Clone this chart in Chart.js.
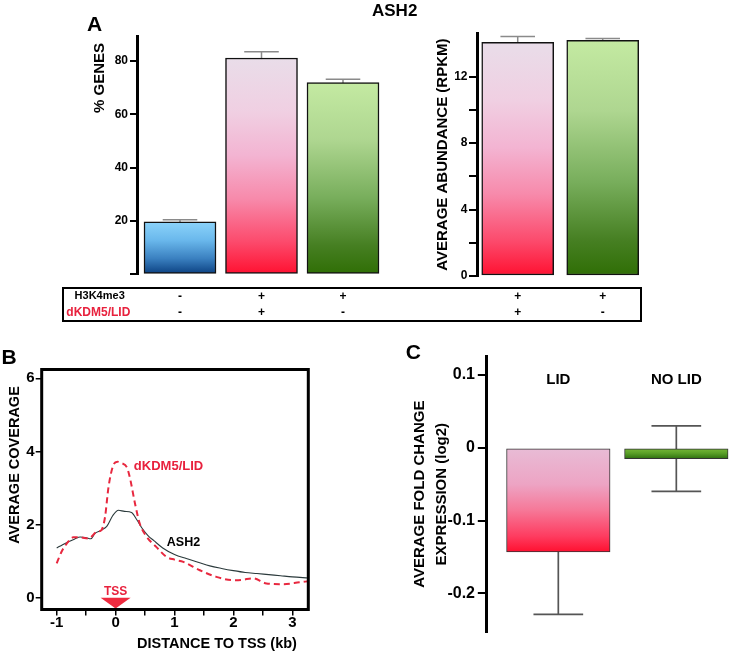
<!DOCTYPE html>
<html><head><meta charset="utf-8">
<script src="https://cdn.jsdelivr.net/npm/chart.js@4.4.1/dist/chart.umd.min.js"></script>
<style>
html,body{margin:0;padding:0;background:#fff;}
#wrap{position:relative;width:750px;height:652px;overflow:hidden;font-family:'Liberation Sans',Arial,Helvetica,sans-serif;font-weight:bold;color:#000;}
canvas{position:absolute;left:0;top:0;}
.t{position:absolute;white-space:nowrap;line-height:1;}
.c{transform:translate(-50%,-50%);}
.r{transform:translate(-50%,-50%) rotate(-90deg);}
#tbl{position:absolute;left:61.5px;top:286.5px;width:576px;height:31px;border:2px solid #000;}
</style></head><body>
<div id="wrap">
<canvas id="cA1" width="750" height="652"></canvas>
<canvas id="cA2" width="750" height="652"></canvas>
<canvas id="cB" width="750" height="652"></canvas>
<canvas id="cC" width="750" height="652"></canvas>
<div class="t c" style="left:94.5px;top:22.5px;font-size:21px">A</div>
<div class="t c" style="left:394.7px;top:9.5px;font-size:17px">ASH2</div>
<div class="t r" style="left:98px;top:78px;font-size:15px">% GENES</div>
<div id="tbl"></div>
<div class="t c" style="left:99.7px;top:295px;font-size:11px">H3K4me3</div>
<div class="t c" style="left:98.3px;top:312.3px;font-size:12px;color:#e8213d">dKDM5/LID</div>
<div class="t c" style="left:9.2px;top:355.5px;font-size:21px">B</div>
<div class="t r" style="left:14px;top:465px;font-size:14.5px">AVERAGE COVERAGE</div>
<div class="t c" style="left:217px;top:643px;font-size:14.5px">DISTANCE TO TSS (kb)</div>
<div class="t c" style="left:413.3px;top:350.8px;font-size:21px">C</div>
</div>
<script>
// ---------- DATA ----------
// Panel A (left): % genes
const genesCats = ['H3K4me3- dKDM5/LID-', 'H3K4me3+ dKDM5/LID+', 'H3K4me3+ dKDM5/LID-'];
const genesPct = [19.7, 81.1, 71.9];
const genesErr = [0.8, 2.4, 1.25];
const genesTicks = [0, 20, 40, 60, 80];
// Panel A (right): average abundance (RPKM)
const abundCats = ['H3K4me3+ dKDM5/LID+', 'H3K4me3+ dKDM5/LID-'];
const abundRpkm = [14.06, 14.18];
const abundErr = [0.35, 0.12];
const abundTicks = [0, 2, 4, 6, 8, 10, 12];
// Table under panel A
const tableRowH3 = ['-', '+', '+', '+', '+'];
const tableRowLid = ['-', '+', '-', '+', '-'];
// Panel B: coverage profiles around TSS
const seriesNames = ['dKDM5/LID', 'ASH2'];
const lidX = [-1.0,-0.92,-0.83,-0.72,-0.6,-0.46,-0.32,-0.24,-0.18,-0.12,-0.04,0.03,0.1,0.19,0.24,0.33,0.41,0.53,0.69,0.86,1.0,1.15,1.43,1.71,1.99,2.15,2.33,2.56,2.84,3.12,3.27];
const lidY = [0.94,1.25,1.48,1.65,1.65,1.62,1.80,1.85,2.2,3.03,3.62,3.72,3.68,3.57,3.3,2.57,2.03,1.66,1.39,1.12,1.04,0.98,0.75,0.57,0.48,0.49,0.53,0.39,0.37,0.42,0.45];
const ash2X = [-1.0,-0.9,-0.8,-0.7,-0.6,-0.5,-0.42,-0.35,-0.25,-0.15,-0.05,0.05,0.15,0.27,0.36,0.45,0.55,0.65,0.8,1.0,1.2,1.4,1.6,1.8,2.0,2.2,2.4,2.6,2.8,3.0,3.27];
const ash2Y = [1.36,1.45,1.53,1.60,1.66,1.64,1.61,1.76,1.84,1.95,2.24,2.39,2.36,2.33,2.13,1.90,1.70,1.56,1.36,1.18,1.07,0.97,0.87,0.80,0.74,0.69,0.66,0.63,0.60,0.57,0.54];
const covXTicks = [-1, -0.5, 0, 0.5, 1, 1.5, 2, 2.5, 3];
const covYTicks = [0, 2, 4, 6];
const tssPos = 0;
// Panel C: average fold change expression
const foldCats = ['LID', 'NO LID'];
const foldVals = [-0.143, -0.015];
const foldErr = [0.086, 0.045];
const foldTicks = [-0.2, -0.1, 0, 0.1];

// ---------- STYLE ----------
const FONT = "'Liberation Sans', Arial, Helvetica, sans-serif";
Chart.defaults.font.family = FONT;
Chart.defaults.color = '#000';
const BLUE = [[0,'#8cd3fa'],[0.35,'#6ab8ec'],[0.7,'#3a80c0'],[1,'#0a3f80']];
const PINK = [[0,'#e9dde9'],[0.25,'#f0cfe2'],[0.45,'#f3b4d2'],[0.65,'#f78aab'],[0.85,'#fc4a6c'],[1,'#ff1030']];
const GREEN = [[0,'#c4eaa2'],[0.3,'#aed690'],[0.6,'#78ae5c'],[0.85,'#467f22'],[1,'#2f6e05']];
const PINK_C = [[0,'#e8bcd6'],[0.35,'#eda4c4'],[0.6,'#f67898'],[0.85,'#fe3c60'],[1,'#ff1030']];
const GREEN_C = [[0,'#7cbc3c'],[0.5,'#5aa028'],[1,'#2f7010']];

function gradFill(ctx, stops) {
  const ch = ctx.chart;
  if (ctx.type !== 'data' || !ch.chartArea) return stops[0][1];
  const ys = ch.scales.y;
  const v = ctx.parsed ? ctx.parsed.y : ctx.raw.y;
  const p1 = ys.getPixelForValue(Math.max(v, 0)), p2 = ys.getPixelForValue(Math.min(v, 0));
  const g = ch.ctx.createLinearGradient(0, p1, 0, p2);
  stops.forEach(s => g.addColorStop(s[0], s[1]));
  return g;
}

const errorBars = {
  id: 'errorBars',
  beforeDatasetsDraw(chart, args, opts) {
    const ds = chart.data.datasets[0];
    if (!ds.errors) return;
    const meta = chart.getDatasetMeta(0), ys = chart.scales.y, c = chart.ctx;
    c.save();
    c.strokeStyle = opts.color; c.lineWidth = opts.width;
    meta.data.forEach((el, i) => {
      const v = ds.data[i].y, e = ds.errors[i];
      const x = el.x, half = el.width * 0.24;
      const yt = ys.getPixelForValue(v + e), yb = ys.getPixelForValue(v - e);
      c.beginPath();
      c.moveTo(x, yt); c.lineTo(x, yb);
      c.moveTo(x - half, yt); c.lineTo(x + half, yt);
      c.moveTo(x - half, yb); c.lineTo(x + half, yb);
      c.stroke();
    });
    c.restore();
  }
};

function yAxis(opts) {
  return Object.assign({
    border: { display: true, width: 3, color: '#000' },
    grid: { display: true, drawOnChartArea: false, drawTicks: true, tickLength: 7, color: '#000', lineWidth: 2 },
  }, opts);
}
const common = {
  responsive: false, animation: false, events: [],
};

// ---------- PANEL A left ----------
const chA1 = new Chart(document.getElementById('cA1'), {
  type: 'bar',
  data: { labels: genesCats, datasets: [{
    label: '% GENES',
    data: genesPct.map((v, i) => ({ x: i, y: v })),
    errors: genesErr,
    backgroundColor: c => gradFill(c, [BLUE, PINK, GREEN][c.dataIndex]),
    borderColor: '#111', borderWidth: 1.5, borderSkipped: false, barThickness: 72
  }]},
  options: Object.assign({}, common, {
    layout: { padding: { left: 97, top: 36, right: 370, bottom: 377.7 } },
    plugins: { legend: { display: false }, tooltip: { enabled: false }, errorBars: { color: '#8a8a8a', width: 1.5 } },
    scales: {
      x: { type: 'linear', display: false, min: -0.5276, max: 2.454, offset: false },
      y: yAxis({ min: 0, max: 89.36,
        afterFit: s => { s.width = 40; },
        afterBuildTicks: s => { s.ticks = genesTicks.map(v => ({ value: v })); },
        ticks: { font: { size: 12, weight: 'bold' }, color: '#000', padding: 2, callback: v => v === 0 ? '' : String(v) } })
    }
  }),
  plugins: [errorBars]
});

// ---------- PANEL A right ----------
const chA2 = new Chart(document.getElementById('cA2'), {
  type: 'bar',
  data: { labels: abundCats, datasets: [{
    label: 'AVERAGE ABUNDANCE (RPKM)',
    data: abundRpkm.map((v, i) => ({ x: i, y: v })),
    errors: abundErr,
    backgroundColor: c => gradFill(c, [PINK, GREEN][c.dataIndex]),
    borderColor: '#111', borderWidth: 1.5, borderSkipped: false, barThickness: 72
  }]},
  options: Object.assign({}, common, {
    layout: { padding: { left: 432, top: 33.3, right: 100, bottom: 376 } },
    plugins: { legend: { display: false }, tooltip: { enabled: false }, errorBars: { color: '#8a8a8a', width: 1.5 } },
    scales: {
      x: { type: 'linear', display: false, min: -0.479, max: 1.556, offset: false },
      y: yAxis({ min: 0, max: 14.61,
        afterFit: s => { s.width = 45; },
        afterBuildTicks: s => { s.ticks = abundTicks.map(v => ({ value: v })); },
        title: { display: true, text: 'AVERAGE ABUNDANCE (RPKM)', font: { size: 15, weight: 'bold' }, color: '#000', padding: { top: 2, bottom: 0 } },
        grid: { display: true, drawOnChartArea: false, drawTicks: true, tickLength: 8, color: '#000', lineWidth: 2 },
        ticks: { font: { size: 12, weight: 'bold' }, color: '#000', padding: 1.5, callback: v => v % 4 === 0 ? String(v) : '' } })
    }
  }),
  plugins: [errorBars]
});

// ---------- PANEL B ----------
const covDecor = {
  id: 'covDecor',
  afterDatasetsDraw(chart) {
    const { ctx: c, chartArea: a, scales: { x, y } } = chart;
    c.save();
    const px = x.getPixelForValue(tssPos);
    c.fillStyle = '#ee2a3f';
    c.beginPath();
    c.moveTo(px - 15, y.getPixelForValue(0)); c.lineTo(px + 15, y.getPixelForValue(0)); c.lineTo(px, a.bottom - 1);
    c.closePath(); c.fill();
    c.textBaseline = 'middle';
    c.textAlign = 'center';
    c.font = 'bold 12px ' + FONT;
    c.fillStyle = '#e8213d';
    c.fillText('TSS', px, 591.5);
    c.textAlign = 'left';
    c.font = 'bold 13px ' + FONT;
    c.fillText(seriesNames[0], x.getPixelForValue(0.31), y.getPixelForValue(3.6));
    c.fillStyle = '#000';
    c.font = 'bold 12.5px ' + FONT;
    c.fillText(seriesNames[1], x.getPixelForValue(0.87), y.getPixelForValue(1.52));
    c.lineWidth = 3; c.strokeStyle = '#000';
    c.strokeRect(a.left, a.top, a.right - a.left, a.bottom - a.top);
    c.restore();
  }
};
const tickGrid = { display: true, drawOnChartArea: false, drawTicks: true, tickLength: 6, color: '#000', lineWidth: 1.5 };
const chB = new Chart(document.getElementById('cB'), {
  type: 'line',
  data: { datasets: [
    { label: seriesNames[0], data: lidX.map((v, i) => ({ x: v, y: lidY[i] })), borderColor: '#e8283f', borderWidth: 2, borderDash: [6, 4], pointRadius: 0, cubicInterpolationMode: 'monotone', fill: false },
    { label: seriesNames[1], data: ash2X.map((v, i) => ({ x: v, y: ash2Y[i] })), borderColor: '#2b3a3c', borderWidth: 1.1, pointRadius: 0, cubicInterpolationMode: 'monotone', fill: false }
  ]},
  options: Object.assign({}, common, {
    layout: { padding: { left: 6.7, top: 369.5, right: 441.7, bottom: 12.5 } },
    plugins: { legend: { display: false }, tooltip: { enabled: false } },
    scales: {
      x: { type: 'linear', min: -1.2547, max: 3.2716,
        afterFit: s => { s.height = 30; },
        afterBuildTicks: s => { s.ticks = covXTicks.map(v => ({ value: v })); },
        border: { display: false }, grid: tickGrid,
        ticks: { font: { size: 15, weight: 'bold', lineHeight: 1 }, color: '#000', padding: 0, maxRotation: 0, autoSkip: false, callback: v => Number.isInteger(v) ? String(v) : '' } },
      y: { type: 'linear', min: -0.3227, max: 6.24,
        afterFit: s => { s.width = 35; },
        afterBuildTicks: s => { s.ticks = covYTicks.map(v => ({ value: v })); },
        border: { display: false }, grid: tickGrid,
        ticks: { font: { size: 15, weight: 'bold' }, color: '#000', padding: 1, autoSkip: false, callback: v => String(v) } }
    }
  }),
  plugins: [covDecor]
});

// ---------- PANEL C ----------
const foldLabels = {
  id: 'foldLabels',
  afterDatasetsDraw(chart) {
    const c = chart.ctx, meta = chart.getDatasetMeta(0);
    c.save();
    c.font = 'bold 15px ' + FONT; c.fillStyle = '#000';
    c.textAlign = 'center'; c.textBaseline = 'middle';
    meta.data.forEach((el, i) => c.fillText(foldCats[i], el.x, 380));
    c.restore();
  }
};
const chC = new Chart(document.getElementById('cC'), {
  type: 'bar',
  data: { labels: foldCats, datasets: [{
    label: 'AVERAGE FOLD CHANGE EXPRESSION (log2)',
    data: foldVals.map((v, i) => ({ x: i, y: v })),
    errors: foldErr,
    backgroundColor: c => gradFill(c, [PINK_C, GREEN_C][c.dataIndex]),
    borderColor: '#333', borderWidth: 1, borderSkipped: false, barThickness: 103.5
  }]},
  options: Object.assign({}, common, {
    layout: { padding: { left: 406.8, top: 356.7, right: 5, bottom: 20.3 } },
    plugins: { legend: { display: false }, tooltip: { enabled: false }, errorBars: { color: '#555', width: 1.7 } },
    scales: {
      x: { type: 'linear', display: false, min: -0.606, max: 1.582, offset: false },
      y: yAxis({ min: -0.2528, max: 0.1251,
        afterFit: s => { s.width = 80; },
        afterBuildTicks: s => { s.ticks = foldTicks.map(v => ({ value: v })); },
        title: { display: true, text: ['AVERAGE FOLD CHANGE', 'EXPRESSION (log2)'], font: { size: 15, weight: 'bold', lineHeight: 1.45 }, color: '#000', padding: { top: 2.3, bottom: 0 } },
        grid: { display: true, drawOnChartArea: false, drawTicks: true, tickLength: 9, color: '#000', lineWidth: 2 },
        ticks: { font: { size: 16, weight: 'bold' }, color: '#000', padding: 2.8, callback: v => String(v) } })
    }
  }),
  plugins: [errorBars, foldLabels]
});

// ---------- TABLE SIGNS (aligned on the bar scales) ----------
const colX = [0, 1, 2].map(i => chA1.scales.x.getPixelForValue(i)).concat([0, 1].map(i => chA2.scales.x.getPixelForValue(i)));
const wrap = document.getElementById('wrap');
function sign(txt, x, y) {
  const d = document.createElement('div');
  d.className = 't c'; d.textContent = txt;
  d.style.left = x + 'px'; d.style.top = y + 'px'; d.style.fontSize = '12px';
  wrap.appendChild(d);
}
colX.forEach((x, i) => { sign(tableRowH3[i], x, 296); sign(tableRowLid[i], x, 312); });
</script>
</body></html>
